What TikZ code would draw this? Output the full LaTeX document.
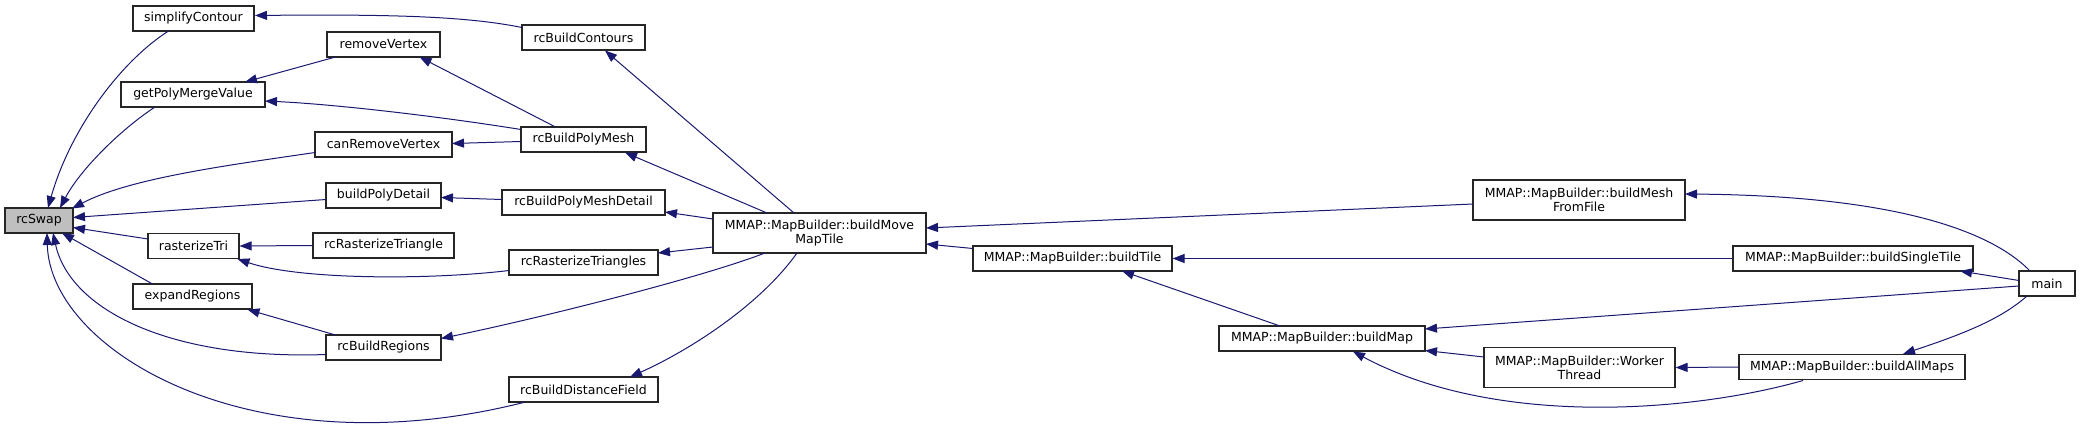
\documentclass[tikz,border=0pt]{standalone}
\usepackage{fontspec}
\setmainfont{DejaVu Sans}
\usetikzlibrary{arrows.meta,calc}
\definecolor{edgec}{HTML}{191970}
\definecolor{rootfill}{HTML}{BFBFBF}
\begin{document}
\begin{tikzpicture}[x=1pt,y=-1pt,
  box/.style={draw=black!85, line width=1.1pt, fill=white, inner sep=0pt,
    minimum height=25pt, font=\fontsize{12.5}{14}\selectfont, align=center},
  tall/.style={minimum height=40pt},
  edge/.style={draw=edgec, line width=1pt, -{Triangle[length=12pt,width=9pt]}}]
\useasboundingbox (0,0) rectangle (2080,423);
% nodes
\node[box, fill=rootfill, minimum width=68pt] (rcSwap) at (39,220.5) {rcSwap};
\node[box, minimum width=121pt] (simplifyContour) at (193.5,18.5) {simplifyContour};
\node[box, minimum width=113pt] (removeVertex) at (383.5,44.5) {removeVertex};
\node[box, minimum width=123pt] (rcBuildContours) at (583.5,37.5) {rcBuildContours};
\node[box, minimum width=144pt] (getPolyMergeValue) at (193,94.5) {getPolyMergeValue};
\node[box, minimum width=137pt] (canRemoveVertex) at (383.5,144.5) {canRemoveVertex};
\node[box, minimum width=125pt] (rcBuildPolyMesh) at (583.5,139.5) {rcBuildPolyMesh};
\node[box, minimum width=115pt] (buildPolyDetail) at (383.5,195.5) {buildPolyDetail};
\node[box, minimum width=163pt] (rcBuildPolyMeshDetail) at (583.5,202.5) {rcBuildPolyMeshDetail};
\node[box, minimum width=91pt] (rasterizeTri) at (193.5,246) {rasterizeTri};
\node[box, minimum width=141pt] (rcRasterizeTriangle) at (383.5,245.5) {rcRasterizeTriangle};
\node[box, minimum width=149pt] (rcRasterizeTriangles) at (583.5,262.5) {rcRasterizeTriangles};
\node[box, minimum width=119pt] (expandRegions) at (192.5,296.5) {expandRegions};
\node[box, minimum width=115pt] (rcBuildRegions) at (383.5,347.5) {rcBuildRegions};
\node[box, minimum width=149pt] (rcBuildDistanceField) at (583.5,389.5) {rcBuildDistanceField};
\node[box, tall, minimum width=213pt] (buildMoveMapTile) at (819.5,233) {MMAP::MapBuilder::buildMove\\MapTile};
\node[box, minimum width=199pt] (buildTile) at (1072.5,258.5) {MMAP::MapBuilder::buildTile};
\node[box, tall, minimum width=212pt] (buildMeshFromFile) at (1579,200) {MMAP::MapBuilder::buildMesh\\FromFile};
\node[box, minimum width=206pt] (buildMap) at (1322,338.5) {MMAP::MapBuilder::buildMap};
\node[box, tall, minimum width=191pt] (WorkerThread) at (1579.5,367.5) {MMAP::MapBuilder::Worker\\Thread};
\node[box, minimum width=240pt] (buildSingleTile) at (1853,258.5) {MMAP::MapBuilder::buildSingleTile};
\node[box, minimum width=226pt] (buildAllMaps) at (1852,367) {MMAP::MapBuilder::buildAllMaps};
\node[box, minimum width=56pt] (main) at (2047,283.5) {main};
% edges
\draw[edge] ($(rcBuildContours)+(-61.5,-10)$) .. controls (470,17) and (400,14) .. ($(simplifyContour)+(61.5,-3)$);
\draw[edge] ($(simplifyContour)+(-25,12.5)$) .. controls (120,62) and (70,130) .. ($(rcSwap)+(9,-12.5)$);
\draw[edge] ($(getPolyMergeValue)+(-38,12.5)$) .. controls (120,130) and (80,170) .. ($(rcSwap)+(21,-12.5)$);
\draw[edge] ($(canRemoveVertex)+(-68.5,8)$) .. controls (230,165) and (130,178) .. ($(rcSwap)+(33,-12)$);
\draw[edge] ($(buildPolyDetail)+(-57.5,4)$) -- ($(rcSwap)+(34,-3)$);
\draw[edge] ($(rcBuildPolyMeshDetail)+(-81.5,-3)$) -- ($(buildPolyDetail)+(57.5,2)$);
\draw[edge] ($(rasterizeTri)+(-45.5,-7)$) -- ($(rcSwap)+(34,7)$);
\draw[edge] (rcRasterizeTriangle.west) -- (rasterizeTri.east);
\draw[edge] ($(rcRasterizeTriangles)+(-74.5,8)$) .. controls (430,280) and (300,280) .. ($(rasterizeTri)+(44,13)$);
\draw[edge] ($(expandRegions)+(-40,-12.5)$) -- ($(rcSwap)+(23,12.5)$);
\draw[edge] ($(rcBuildRegions)+(-48,-12.5)$) -- ($(expandRegions)+(55,13)$);
\draw[edge] ($(rcBuildRegions)+(-57.5,7)$) .. controls (170,360) and (70,310) .. ($(rcSwap)+(14,12.5)$);
\draw[edge] ($(rcBuildDistanceField)+(-58,12.5)$) .. controls (250,472) and (50,350) .. ($(rcSwap)+(8,12.5)$);
\draw[edge] ($(removeVertex)+(-48,12.5)$) -- ($(getPolyMergeValue)+(52,-12.5)$);
\draw[edge] ($(rcBuildPolyMesh)+(-28,-12.5)$) -- ($(removeVertex)+(36,12.5)$);
\draw[edge] ($(rcBuildPolyMesh)+(-62.5,-10)$) .. controls (430,115) and (330,104) .. ($(getPolyMergeValue)+(72,6.5)$);
\draw[edge] ($(rcBuildPolyMesh)+(-62.5,2)$) -- ($(canRemoveVertex)+(68.5,-1)$);
\draw[edge] ($(buildMoveMapTile)+(-25.5,-20)$) -- ($(rcBuildContours)+(21.5,13)$);
\draw[edge] ($(buildMoveMapTile)+(-52.5,-20)$) -- ($(rcBuildPolyMesh)+(41.5,13)$);
\draw[edge] ($(buildMoveMapTile)+(-106.5,-14)$) -- ($(rcBuildPolyMeshDetail)+(81.5,9.5)$);
\draw[edge] ($(buildMoveMapTile)+(-106.5,14)$) -- ($(rcRasterizeTriangles)+(74.5,-9.5)$);
\draw[edge] ($(buildMoveMapTile)+(-54.5,20)$) .. controls (700,278) and (540,318) .. ($(rcBuildRegions)+(57.5,-9)$);
\draw[edge] ($(buildMoveMapTile)+(-22.5,20)$) .. controls (760,305) and (690,350) .. ($(rcBuildDistanceField)+(46.5,-12.5)$);
\draw[edge] ($(buildMeshFromFile)+(-106,4)$) -- ($(buildMoveMapTile)+(106.5,-5)$);
\draw[edge] ($(buildTile)+(-99.5,-10)$) -- ($(buildMoveMapTile)+(106.5,11)$);
\draw[edge] (buildSingleTile.west) -- (buildTile.east);
\draw[edge] ($(buildMap)+(-42,-12.5)$) -- ($(buildTile)+(49.5,12.5)$);
\draw[edge] ($(main)+(-17,-12.5)$) .. controls (2000,240) and (1920,196) .. ($(buildMeshFromFile)+(106,-6)$);
\draw[edge] ($(main)+(-28,-3)$) -- ($(buildSingleTile)+(107,12.5)$);
\draw[edge] ($(main)+(-28,2.5)$) -- ($(buildMap)+(103,-9.5)$);
\draw[edge] ($(WorkerThread)+(-95.5,-10.5)$) -- ($(buildMap)+(103,12)$);
\draw[edge] ($(buildAllMaps)+(-49,13.5)$) .. controls (1700,410) and (1500,430) .. ($(buildMap)+(31,13)$);
\draw[edge] (buildAllMaps.west) -- (WorkerThread.east);
\draw[edge] ($(main)+(-20,12.5)$) .. controls (2000,320) and (1960,335) .. ($(buildAllMaps)+(51,-13)$);
\end{tikzpicture}
\end{document}
